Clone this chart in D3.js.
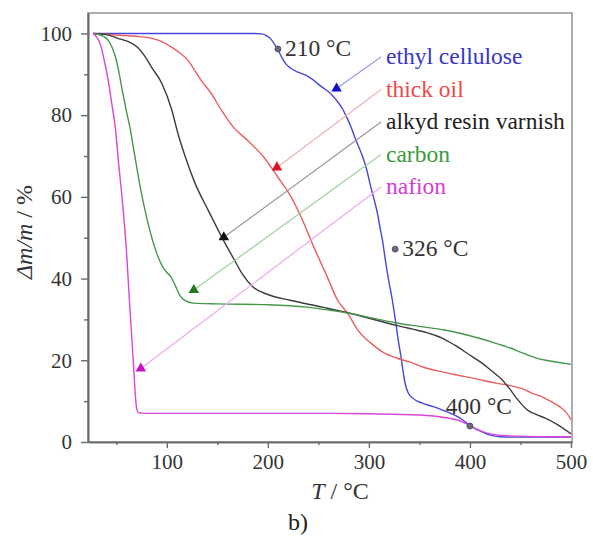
<!DOCTYPE html>
<html>
<head>
<meta charset="utf-8">
<script src="https://cdn.jsdelivr.net/npm/d3@7/dist/d3.min.js"></script>
<style>
  html, body { margin: 0; padding: 0; background: #fff; }
  svg { display: block; font-family: "Liberation Serif", "Times New Roman", serif; }
</style>
</head>
<body>
<svg id="chart" width="593" height="536"></svg>
<script>
// TGA curves: temperature (°C) vs remaining mass (%)
const ethylCellulose = [[27,100],[100,100],[150,100],[185,100],[194,99.9],[199,99.4],[203,98.6],[207,97.2],[210,96],[214,94],[218,92.5],[222,91.6],[230,90.5],[239,89.6],[254,86.8],[262,85.3],[268,83.6],[274,81.5],[278,79.5],[282,77.3],[286,74.6],[290,72.2],[294,69.7],[298,66.5],[301,63.3],[305,59.5],[308,56.5],[311,52.5],[314,48.5],[316,45],[319,40.3],[323,35],[326,30.2],[329,25],[332,20.5],[334,17],[336,14.2],[339,12],[343,10.8],[353,9.5],[363,8.7],[373,7.8],[382,6.9],[390,5.9],[396,4.8],[401,3.9],[405,3.3],[410,2.7],[420,1.7],[430,1.3],[440,1.2],[500,1.2]];
const thickOil = [[27,100],[50,99.6],[70,99.3],[85,98.8],[95,98],[105,96.6],[113,95.2],[121,93.4],[127,91.2],[134,88.5],[144,85.3],[154,81.2],[166,77],[180,73.8],[196,69.7],[210,64.8],[223,60],[233,55],[245.5,47.7],[259,40.3],[269,34.7],[279,31.5],[289,27.4],[302,24.2],[315,21.8],[328,20.5],[340,19.6],[354,18.3],[370,17.3],[387,16.4],[405,15.5],[426,14.4],[440,13.8],[452,13],[463,11.8],[472,11],[481,9.8],[489,8.6],[495,7.3],[500,5.5]];
const alkydResin = [[27,100],[40,99.7],[51.5,98.8],[62,98],[71,96.6],[78,94.5],[85,91.7],[95,87.8],[105,81.2],[111,75.5],[118,70],[128,63.3],[141,56.7],[154.5,50.1],[167,44.5],[175,41],[185,38],[200,36.1],[222,34.7],[254,33],[281,31.5],[300,30.3],[326,28.6],[358,26.7],[372,25.5],[385,23.7],[398,21.6],[412,19.3],[422,17.3],[432,15.2],[440,12.8],[447.5,10.3],[457,7.8],[466,6.7],[474,5.9],[487,4.2],[500,2.0]];
const carbon = [[27,100],[32,99.8],[37,99.3],[42,98.3],[46,96.5],[50,93.5],[53,90],[56.5,85.3],[60,81],[63.5,77],[68,70.5],[73,63.3],[80,55],[88,47.7],[95,43.3],[100,41.5],[104,40.5],[108,38.5],[113,35.8],[118,34.6],[126,34],[150,33.8],[200,33.6],[239,33],[260,32.3],[281,31.5],[300,30.5],[326,29.2],[350,28.3],[375,27.4],[400,26],[425,24.2],[440,23],[452,21.8],[465,20.6],[475,20],[490,19.4],[500,19]];
const nafion = [[27,100],[30,99.3],[34,97.5],[38,93.5],[42,88.5],[46,82],[49,77],[52,69],[56,59],[60,47],[63,34.5],[66.5,21],[70,8.5],[72,7.2],[80,7.0],[150,7.0],[250,7.0],[300,6.9],[350,6.6],[375,6.0],[390,5.2],[400,4.0],[410,2.8],[420,2.0],[440,1.5],[470,1.3],[500,1.3]];

const seriesNames = ["ethyl cellulose", "thick oil", "alkyd resin varnish", "carbon", "nafion"];
const seriesData = [ethylCellulose, thickOil, alkydResin, carbon, nafion];
// marker (triangle) on each curve that the label's leader line points to
const markerPoints = [[268,86.5],[209,67.2],[156.4,50.1],[126.7,37.2],[74.3,18]];

// temperature call-outs
const calloutT = [210, 326, 400];
const calloutMass = [96.2, 47.2, 3.9];

const xTicks = [100, 200, 300, 400, 500];
const xMinor = [50, 150, 250, 350, 450];
const yTicks = [0, 20, 40, 60, 80, 100];
const yMinor = [10, 30, 50, 70, 90];

// ---- styling ----
const lineColors = ["#4646dc", "#ec5e5e", "#3c3c3c", "#45984a", "#d846d8"];
const textColors = ["#3636c8", "#f04848", "#222222", "#3c9a3c", "#d43cd4"];
const markColors = ["#1010c8", "#e0102a", "#111111", "#1f7a22", "#c810c8"];
const leadColors = ["#9a9af0", "#f6b0b0", "#9a9a9a", "#9ed09e", "#f0a8f0"];

const svg = d3.select("#chart");
const plotLeft = 88, plotRight = 572, plotTop = 13, plotBottom = 442;

const x = d3.scaleLinear().domain([22, 501]).range([plotLeft, plotRight]);
const y = d3.scaleLinear().domain([0, 105]).range([plotBottom, plotTop]);

const tickFont = 21;
const labelFont = 23.5;
const titleFont = 24;
const axisColor = "#6a6a6a";

// frame
svg.append("rect")
  .attr("x", plotLeft).attr("y", plotTop)
  .attr("width", plotRight - plotLeft).attr("height", plotBottom - plotTop)
  .attr("fill", "none").attr("stroke", "#9a9a9a").attr("stroke-width", 1.6);

// axes
const xAxis = svg.append("g").attr("transform", `translate(0,${plotBottom})`)
  .call(d3.axisBottom(x).tickValues(xTicks).tickSize(6).tickPadding(6).tickSizeOuter(0));
const xAxisMinor = svg.append("g").attr("transform", `translate(0,${plotBottom})`)
  .call(d3.axisBottom(x).tickValues(xMinor).tickSize(3).tickFormat("").tickSizeOuter(0));
const yAxis = svg.append("g").attr("transform", `translate(${plotLeft},0)`)
  .call(d3.axisLeft(y).tickValues(yTicks).tickSize(7).tickPadding(9).tickSizeOuter(0));
const yAxisMinor = svg.append("g").attr("transform", `translate(${plotLeft},0)`)
  .call(d3.axisLeft(y).tickValues(yMinor).tickSize(4).tickFormat("").tickSizeOuter(0));

[xAxis, xAxisMinor, yAxis, yAxisMinor].forEach(g => {
  g.select(".domain").attr("stroke", axisColor).attr("stroke-width", 1.6);
  g.selectAll(".tick line").attr("stroke", axisColor).attr("stroke-width", 1.4);
  g.selectAll(".tick text")
    .attr("font-family", "Liberation Serif, Times New Roman, serif")
    .attr("font-size", tickFont).attr("fill", "#333");
});

// curves
const line = d3.line()
  .x(d => x(d[0])).y(d => y(d[1]))
  .curve(d3.curveMonotoneX);

const plot = svg.append("g");
seriesData.forEach((s, i) => {
  plot.append("path")
    .datum(s)
    .attr("d", line)
    .attr("fill", "none")
    .attr("stroke", lineColors[i])
    .attr("stroke-width", 1.4)
    .attr("stroke-linejoin", "round");
});

// labels with leader lines and triangle markers
const labelX = 386, labelY0 = 64, labelStep = 32.5;
seriesNames.forEach((name, i) => {
  const ly = labelY0 + i * labelStep;
  const mp = markerPoints[i];
  svg.append("line")
    .attr("x1", labelX - 5).attr("y1", ly - 7)
    .attr("x2", x(mp[0])).attr("y2", y(mp[1]))
    .attr("stroke", leadColors[i]).attr("stroke-width", 1.2);
  svg.append("path")
    .attr("d", d3.symbol().type(d3.symbolTriangle).size(48)())
    .attr("transform", `translate(${x(mp[0])},${y(mp[1])})`)
    .attr("fill", markColors[i]);
  svg.append("text")
    .attr("x", labelX).attr("y", ly)
    .attr("font-size", labelFont)
    .attr("fill", textColors[i])
    .text(name);
});

// temperature call-outs
const calloutOffsets = [[7, 7, "start"], [7, 7, "start"], [9, -12, "middle"]];
calloutT.forEach((t, i) => {
  const cx = x(t), cy = y(calloutMass[i]);
  svg.append("circle")
    .attr("cx", cx).attr("cy", cy).attr("r", 3)
    .attr("fill", "#6a6a78").attr("stroke", "#4a4a58").attr("stroke-width", 0.8);
  const o = calloutOffsets[i];
  svg.append("text")
    .attr("x", cx + o[0]).attr("y", cy + o[1])
    .attr("text-anchor", o[2])
    .attr("font-size", labelFont).attr("fill", "#333")
    .text(`${t} °C`);
});

// axis titles
const yTitle = svg.append("text")
  .attr("transform", `translate(32,232) rotate(-90)`)
  .attr("text-anchor", "middle")
  .attr("font-size", titleFont).attr("fill", "#333");
yTitle.append("tspan").attr("font-style", "italic").text("Δm/m");
yTitle.append("tspan").text(" / %");

const xTitle = svg.append("text")
  .attr("x", 340).attr("y", 499)
  .attr("text-anchor", "middle")
  .attr("font-size", titleFont).attr("fill", "#333");
xTitle.append("tspan").attr("font-style", "italic").text("T");
xTitle.append("tspan").text(" / °C");

svg.append("text")
  .attr("x", 298).attr("y", 530)
  .attr("text-anchor", "middle")
  .attr("font-size", titleFont).attr("fill", "#222")
  .text("b)");
</script>
</body>
</html>
